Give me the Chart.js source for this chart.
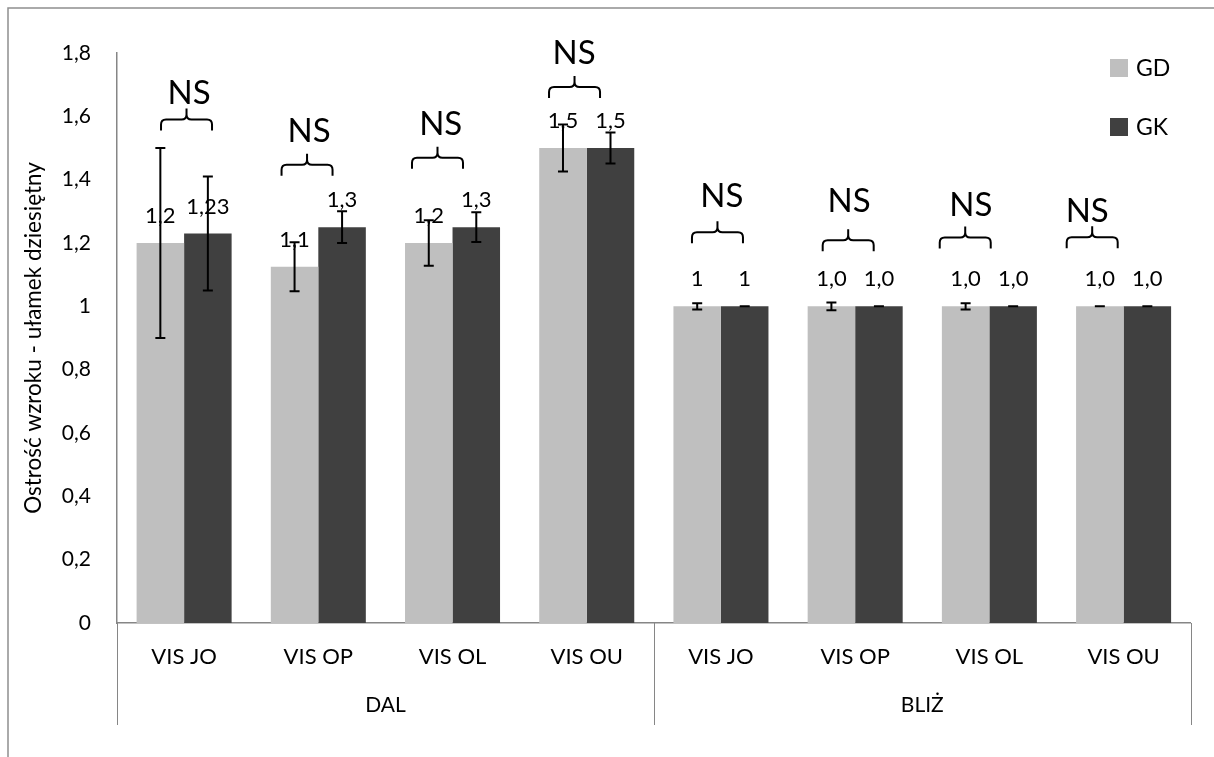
<!DOCTYPE html>
<html>
<head>
<meta charset="utf-8">
<script src="https://cdn.jsdelivr.net/npm/chart.js@4"></script>
<style>
  body { margin: 0; background: #fff; }
  canvas { display: block; }
</style>
</head>
<body>
<canvas id="wykres" width="1214" height="757"></canvas>
<script>
const categories = ['VIS JO', 'VIS OP', 'VIS OL', 'VIS OU', 'VIS JO', 'VIS OP', 'VIS OL', 'VIS OU'];
const groups = ['DAL', 'BLIŻ'];
const groupSizes = [4, 4];

const gd = [1.2, 1.125, 1.2, 1.5, 1, 1, 1, 1];
const gk = [1.23, 1.25, 1.25, 1.5, 1, 1, 1, 1];
const gdErr = [0.3, 0.077, 0.072, 0.074, 0.01, 0.012, 0.01, 0];
const gkErr = [0.18, 0.05, 0.047, 0.049, 0, 0, 0, 0];
const gdText = ['1,2', '1,1', '1,2', '1,5', '1', '1,0', '1,0', '1,0'];
const gkText = ['1,23', '1,3', '1,3', '1,5', '1', '1,0', '1,0', '1,0'];

const yTicks = ['0', '0,2', '0,4', '0,6', '0,8', '1', '1,2', '1,4', '1,6', '1,8'];

// adnotacje "NS" nad parami słupków
const nsText = ['NS', 'NS', 'NS', 'NS', 'NS', 'NS', 'NS', 'NS'];
const braceLevel = [1.59, 1.447, 1.469, 1.693, 1.234, 1.209, 1.217, 1.218];
const nsLevel = [1.673, 1.551, 1.575, 1.799, 1.346, 1.330, 1.320, 1.299];
const braceShift = [0.018, -0.084, -0.112, -0.091, -0.026, -0.052, -0.18, -0.234];
const nsShift = [0.037, -0.069, -0.088, -0.095, 0.007, -0.045, -0.138, -0.271];

const FONT = 'Lato, "Open Sans", sans-serif';
const axisGrey = '#868686';

const extras = {
  id: 'extras',
  beforeDraw(chart) {
    const c = chart.ctx;
    c.save();
    c.strokeStyle = '#8f8f8f';
    c.lineWidth = 1.5;
    c.beginPath();
    c.moveTo(8, 757);
    c.lineTo(8, 8);
    c.lineTo(1214, 8);
    c.stroke();
    c.restore();
  },
  afterDatasetsDraw(chart) {
    const c = chart.ctx;
    const y = chart.scales.y;
    const x = chart.scales.x;
    const errs = [gdErr, gkErr];
    const texts = [gdText, gkText];
    c.save();
    // słupki błędów
    c.strokeStyle = '#000';
    c.lineWidth = 2;
    chart.data.datasets.forEach((ds, di) => {
      chart.getDatasetMeta(di).data.forEach((bar, i) => {
        const v = ds.data[i];
        const e = errs[di][i];
        const top = y.getPixelForValue(v + e);
        const bot = y.getPixelForValue(v - e);
        c.beginPath();
        c.moveTo(bar.x, top); c.lineTo(bar.x, bot);
        c.moveTo(bar.x - 5, top); c.lineTo(bar.x + 5, top);
        c.moveTo(bar.x - 5, bot); c.lineTo(bar.x + 5, bot);
        c.stroke();
      });
    });
    // etykiety wartości
    c.fillStyle = '#000';
    c.font = '22px ' + FONT;
    c.textAlign = 'center';
    c.textBaseline = 'middle';
    chart.data.datasets.forEach((ds, di) => {
      chart.getDatasetMeta(di).data.forEach((bar, i) => {
        c.fillText(texts[di][i], bar.x, bar.y - 27);
      });
    });
    // klamry i NS
    const cw = x.getPixelForValue(1) - x.getPixelForValue(0);
    c.lineWidth = 2;
    c.lineJoin = 'round';
    categories.forEach((cat, i) => {
      const xc = x.getPixelForValue(i) + braceShift[i] * cw;
      const yh = y.getPixelForValue(braceLevel[i]);
      const x0 = xc - 25.5, x1 = xc + 25.5;
      const r = 5;
      c.beginPath();
      c.moveTo(x0, yh + 11);
      c.lineTo(x0, yh + r);
      c.quadraticCurveTo(x0, yh, x0 + r, yh);
      c.lineTo(xc - r, yh);
      c.quadraticCurveTo(xc, yh, xc, yh - r);
      c.lineTo(xc, yh - 11);
      c.moveTo(xc, yh - r);
      c.quadraticCurveTo(xc, yh, xc + r, yh);
      c.lineTo(x1 - r, yh);
      c.quadraticCurveTo(x1, yh, x1, yh + r);
      c.lineTo(x1, yh + 11);
      c.stroke();
      c.font = '33px ' + FONT;
      c.fillText(nsText[i], x.getPixelForValue(i) + nsShift[i] * cw, y.getPixelForValue(nsLevel[i]));
    });
    c.restore();
  },
  afterDraw(chart) {
    const c = chart.ctx;
    const x = chart.scales.x;
    const area = chart.chartArea;
    const cw = x.getPixelForValue(1) - x.getPixelForValue(0);
    c.save();
    // pionowe separatory grup pod osią
    c.strokeStyle = axisGrey;
    c.lineWidth = 1;
    let idx = 0;
    const bounds = [x.getPixelForValue(0) - cw / 2];
    groupSizes.forEach(n => { idx += n; bounds.push(x.getPixelForValue(idx - 1) + cw / 2); });
    bounds.forEach(bx => {
      c.beginPath();
      c.moveTo(Math.round(bx) + 0.5, area.bottom);
      c.lineTo(Math.round(bx) + 0.5, area.bottom + 102);
      c.stroke();
    });
    // legenda
    c.font = '23px ' + FONT;
    c.textAlign = 'left';
    c.textBaseline = 'middle';
    chart.data.datasets.forEach((ds, di) => {
      const cy = 68 + di * 59;
      c.fillStyle = ds.backgroundColor;
      c.fillRect(1110, cy - 9, 18, 18);
      c.fillStyle = '#000';
      c.fillText(ds.label, 1136, cy + 1);
    });
    c.restore();
  }
};

new Chart(document.getElementById('wykres'), {
  type: 'bar',
  data: {
    labels: categories,
    datasets: [
      { label: 'GD', data: gd, backgroundColor: '#bfbfbf', categoryPercentage: 0.708, barPercentage: 1 },
      { label: 'GK', data: gk, backgroundColor: '#404040', categoryPercentage: 0.708, barPercentage: 1 }
    ]
  },
  options: {
    responsive: false,
    animation: false,
    layout: { padding: { top: 53, right: 23.3, left: 0, bottom: 0 } },
    plugins: { legend: { display: false }, tooltip: { enabled: false } },
    scales: {
      x: {
        grid: { display: false, drawTicks: false },
        border: { display: true, color: axisGrey, width: 1.5 },
        ticks: { color: '#000', font: { family: FONT, size: 22 }, padding: 21, maxRotation: 0, autoSkip: false },
        afterFit: s => { s.height = 67; }
      },
      x2: {
        type: 'category',
        position: 'bottom',
        labels: groups,
        offset: true,
        weight: 1,
        grid: { display: false, drawTicks: false },
        border: { display: false },
        ticks: { color: '#000', font: { family: FONT, size: 21 }, padding: 3, maxRotation: 0 },
        afterFit: s => { s.height = 67; }
      },
      y: {
        min: 0,
        max: 1.8,
        grid: { display: false, drawTicks: false },
        border: { display: true, color: axisGrey, width: 1.5 },
        ticks: {
          stepSize: 0.2,
          color: '#000',
          font: { family: FONT, size: 21 },
          padding: 26,
          callback: (v, i) => yTicks[i]
        },
        title: {
          display: true,
          text: 'Ostrość wzroku - ułamek dziesiętny',
          color: '#000',
          font: { family: FONT, size: 22.5 },
          padding: { top: 20, bottom: 0 }
        },
        afterFit: s => { s.width = 117; }
      }
    }
  },
  plugins: [extras]
});
</script>
</body>
</html>
